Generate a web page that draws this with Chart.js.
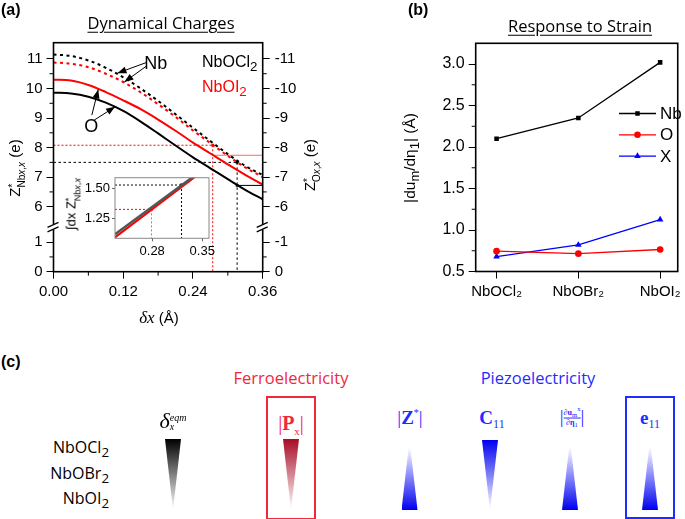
<!DOCTYPE html>
<html>
<head>
<meta charset="utf-8">
<script src="https://cdn.jsdelivr.net/npm/chart.js@4.4.1/dist/chart.umd.min.js"></script>
<style>
body{margin:0;width:685px;height:519px;position:relative;overflow:hidden;background:#fff;font-family:'Liberation Sans',Arial,sans-serif;color:#000;}
canvas{position:absolute;}
.t{position:absolute;white-space:nowrap;transform:translate(-50%,-50%);line-height:1;}
.l{position:absolute;white-space:nowrap;transform:translate(0,-50%);line-height:1;}
.r{position:absolute;white-space:nowrap;transform:translate(-100%,-50%);line-height:1;}
.rot{transform:translate(-50%,-50%) rotate(-90deg);}
.m{font-family:'Open Sans',sans-serif;}
.ser{font-family:'Liberation Serif',serif;}
sub,sup{line-height:0;}
.ss{display:inline-block;vertical-align:-0.5em;line-height:0.95;font-size:10px;text-align:left;}
.tri{position:absolute;}
.box{position:absolute;border:2px solid;box-sizing:border-box;}
.fr{display:inline-block;vertical-align:middle;font-size:8px;text-align:center;line-height:1.1;}
.fr span{display:block;}
</style>
</head>
<body>
<canvas id="cA" width="340" height="330" style="left:0;top:0"></canvas>
<canvas id="cIn" width="165" height="110" style="left:60px;top:160px"></canvas>
<canvas id="cB" width="345" height="330" style="left:340px;top:0"></canvas>

<!-- panel (a) text -->
<div class="l" style="left:1px;top:10px;font-weight:bold;font-size:16px">(a)</div>
<div class="t m" style="left:161px;top:23px;font-size:16.5px;text-decoration:underline;text-underline-offset:3px">Dynamical Charges</div>
<div class="l" style="left:202px;top:62px;font-size:16px">NbOCl<sub>2</sub></div>
<div class="l" style="left:202px;top:87px;font-size:16px;color:#f00">NbOI<sub>2</sub></div>
<div class="t rot" style="left:17px;top:168px;font-size:15px">Z<span class="ss">*<br>Nb<i>x</i>,<i>x</i></span> (e)</div>
<div class="t rot" style="left:312px;top:165px;font-size:15px">Z<span class="ss">*<br>O<i>x</i>,<i>x</i></span> (e)</div>
<div class="t rot" style="left:73px;top:204px;font-size:13px">&int;dx Z<span class="ss" style="font-size:9px">*<br>Nb<i>x</i>,<i>x</i></span></div>
<div class="t" style="left:159px;top:317px;font-size:15px"><i class="ser" style="font-size:17px">&delta;x</i> (&Aring;)</div>

<!-- panel (b) text -->
<div class="l" style="left:408px;top:10px;font-weight:bold;font-size:16px">(b)</div>
<div class="t m" style="left:580px;top:26px;font-size:16.5px;text-decoration:underline;text-underline-offset:3px">Response to Strain</div>
<div class="t rot" style="left:410px;top:158px;font-size:15.5px">|du<sub>m</sub>/d&eta;<sub>1</sub>| (&Aring;)</div>

<!-- panel (c) -->
<div class="l" style="left:1px;top:362px;font-weight:bold;font-size:16px">(c)</div>
<div class="t m" style="left:291px;top:378px;font-size:16.5px;color:#f0283c">Ferroelectricity</div>
<div class="t m" style="left:538px;top:378px;font-size:16.5px;color:#1f2cff">Piezoelectricity</div>
<div class="r m" style="left:109px;top:447px;font-size:16px">NbOCl<sub>2</sub></div>
<div class="r m" style="left:109px;top:473px;font-size:16px">NbOBr<sub>2</sub></div>
<div class="r m" style="left:109px;top:498px;font-size:16px">NbOI<sub>2</sub></div>

<div class="t ser" style="left:173px;top:421px;font-size:22px"><i>&delta;</i><span class="ss" style="font-size:10px;vertical-align:-0.2em"><i>eqm</i><br><i>x</i></span></div>
<div class="t ser" style="left:291px;top:423px;font-size:20px;color:#f0283c">|<b>P</b><sub style="font-size:11px">x</sub>|</div>
<div class="t ser" style="left:410px;top:417px;font-size:19px;color:#1f2cff">|<b>Z</b><sup style="font-size:10px">*</sup>|</div>
<div class="t ser" style="left:492px;top:417px;font-size:19px;color:#1f2cff"><b>C</b><sub style="font-size:12px">11</sub></div>
<div class="t ser" style="left:572px;top:417px;font-size:19px;color:#1f2cff">|<span class="fr"><span style="border-bottom:1px solid #1f2cff"><b>&part;u</b><sub>m</sub><sup>x</sup></span><span><b>&part;&eta;</b><sub>1</sub></span></span>|</div>
<div class="t ser" style="left:650px;top:417px;font-size:19px;color:#1f2cff"><b>e</b><sub style="font-size:12px">11</sub></div>

<div class="tri" style="left:165px;top:439px;width:16px;height:71px;clip-path:polygon(0 0,100% 0,50% 100%);background:linear-gradient(#000,#fff)"></div>
<div class="tri" style="left:283px;top:439px;width:16px;height:71px;clip-path:polygon(0 0,100% 0,50% 100%);background:linear-gradient(#a80c25,#fff)"></div>
<div class="tri" style="left:401.5px;top:440px;width:16px;height:70px;clip-path:polygon(50% 0,100% 100%,0 100%);background:linear-gradient(#fff 10%,#0000f0)"></div>
<div class="tri" style="left:482px;top:440px;width:16px;height:70px;clip-path:polygon(0 0,100% 0,50% 100%);background:linear-gradient(#0000f0,#fff)"></div>
<div class="tri" style="left:562px;top:440px;width:16px;height:70px;clip-path:polygon(50% 0,100% 100%,0 100%);background:linear-gradient(#fff 10%,#0000f0)"></div>
<div class="tri" style="left:642px;top:440px;width:16px;height:70px;clip-path:polygon(50% 0,100% 100%,0 100%);background:linear-gradient(#fff 10%,#0000f0)"></div>
<div class="box" style="left:266px;top:396px;width:50px;height:124px;border-color:#f0283c"></div>
<div class="box" style="left:625px;top:396px;width:50px;height:123px;border-color:#1f2cff"></div>

<script>
// panel (a): Born charges along the polar displacement
const dx    = [0, 0.03, 0.06, 0.09, 0.12, 0.15, 0.18, 0.21, 0.24, 0.27, 0.30, 0.33, 0.36];
const zNbCl = [11.15, 11.10, 10.95, 10.70, 10.38, 10.00, 9.58, 9.13, 8.67, 8.22, 7.78, 7.38, 7.07];
const zNbI  = [10.88, 10.84, 10.72, 10.50, 10.22, 9.87, 9.47, 9.04, 8.58, 8.15, 7.72, 7.33, 7.00];
const zOCl  = [9.86, 9.83, 9.72, 9.52, 9.24, 8.88, 8.48, 8.07, 7.67, 7.30, 6.93, 6.57, 6.25];
const zOI   = [10.30, 10.27, 10.12, 9.88, 9.60, 9.30, 8.95, 8.57, 8.17, 7.80, 7.43, 7.08, 6.75];
// equilibrium points: [NbOCl2, NbOI2]
const eqX  = [0.316, 0.274];
const eqNb = [7.50, 8.08];
const eqO  = [6.72, 7.74];
const aTicksX = [0, 0.12, 0.24, 0.36];
const aTicksY = [0, 1, 6, 7, 8, 9, 10, 11];

// inset: integrated charge
const inX   = [0.228, 0.36];
const inCl  = [1.12, 1.70];
const inI   = [1.095, 1.69];
const inEqX = [0.321, 0.279];
const inEqY = [1.531, 1.328];

// panel (b)
const compounds = ['NbOCl₂', 'NbOBr₂', 'NbOI₂'];
const duNb = [2.10, 2.35, 3.02];
const duO  = [0.745, 0.715, 0.765];
const duX  = [0.68, 0.82, 1.125];

Chart.defaults.font.family = "'Liberation Sans', Arial, sans-serif";
Chart.defaults.color = '#000';

// broken y axis: everything above 3 is pulled down by CUT
const CUT = 3.8;
const brk = v => v > 3 ? v - CUT : v;

function seg(pts, color, width, dash) {
  return { data: pts, showLine: true, borderColor: color, borderWidth: width,
           borderDash: dash || [], pointRadius: 0, fill: false };
}
function curve(ys, color, dash) {
  const ds = seg(dx.map((x, i) => ({ x: x, y: brk(ys[i]) })), color, 2, dash);
  ds.cubicInterpolationMode = 'monotone';
  return ds;
}

function frame(color, width) {
  return {
    id: 'frame',
    afterDatasetsDraw(chart) {
      const a = chart.chartArea, ctx = chart.ctx;
      ctx.save();
      ctx.strokeStyle = color;
      ctx.lineWidth = width;
      ctx.strokeRect(a.left, a.top, a.right - a.left, a.bottom - a.top);
      ctx.restore();
    }
  };
}

function minor(spec, len) {
  return {
    id: 'minor',
    afterDraw(chart) {
      const ctx = chart.ctx;
      ctx.save();
      ctx.strokeStyle = '#000';
      ctx.lineWidth = 1;
      for (const id in spec) {
        const s = chart.scales[id];
        spec[id].forEach(v => {
          const p = s.getPixelForValue(v);
          ctx.beginPath();
          if (s.isHorizontal()) { ctx.moveTo(p, s.top); ctx.lineTo(p, s.top + len); }
          else if (s.position === 'left') { ctx.moveTo(s.right, p); ctx.lineTo(s.right - len, p); }
          else { ctx.moveTo(s.left, p); ctx.lineTo(s.left + len, p); }
          ctx.stroke();
        });
      }
      ctx.restore();
    }
  };
}

function axisFixed(o) {
  // shared look for the framed axes
  return Object.assign({
    type: 'linear',
    border: { display: false },
    grid: { drawOnChartArea: false, tickLength: 7, color: '#000' }
  }, o);
}

// ---------- panel (a)
const notes = [
  { text: 'Nb', at: [0.176, 10.82], arrows: [[0.160, 10.88, 0.110, 10.52], [0.160, 10.76, 0.122, 10.22]] },
  { text: 'O',  at: [0.065, 8.70],  arrows: [[0.066, 9.10, 0.077, 9.97], [0.070, 8.93, 0.106, 9.38]] }
];
const annotA = {
  id: 'annotA',
  afterDraw(chart) {
    const ctx = chart.ctx, sx = chart.scales.x, sy = chart.scales.y;
    const px = v => sx.getPixelForValue(v), py = v => sy.getPixelForValue(brk(v));
    ctx.save();
    // axis breaks
    const yb = sy.getPixelForValue(1.52);
    [chart.chartArea.left, chart.chartArea.right].forEach(x0 => {
      ctx.fillStyle = '#fff';
      ctx.fillRect(x0 - 2, yb - 2.5, 4, 5);
      ctx.strokeStyle = '#000';
      ctx.lineWidth = 1.3;
      ctx.beginPath();
      ctx.moveTo(x0 - 6, yb + 0.5); ctx.lineTo(x0 + 5, yb - 4.5);
      ctx.moveTo(x0 - 6, yb + 5);   ctx.lineTo(x0 + 5, yb);
      ctx.stroke();
    });
    // annotation arrows
    ctx.fillStyle = '#000';
    ctx.strokeStyle = '#000';
    ctx.lineWidth = 1;
    ctx.font = "18px 'Liberation Sans', Arial, sans-serif";
    ctx.textAlign = 'center';
    ctx.textBaseline = 'middle';
    notes.forEach(n => {
      ctx.fillText(n.text, px(n.at[0]), py(n.at[1]));
      n.arrows.forEach(a => {
        const x1 = px(a[0]), y1 = py(a[1]), x2 = px(a[2]), y2 = py(a[3]);
        const ang = Math.atan2(y2 - y1, x2 - x1);
        ctx.beginPath(); ctx.moveTo(x1, y1); ctx.lineTo(x2, y2); ctx.stroke();
        ctx.beginPath();
        ctx.moveTo(x2, y2);
        ctx.lineTo(x2 - 9 * Math.cos(ang) + 3.5 * Math.sin(ang), y2 - 9 * Math.sin(ang) - 3.5 * Math.cos(ang));
        ctx.lineTo(x2 - 9 * Math.cos(ang) - 3.5 * Math.sin(ang), y2 - 9 * Math.sin(ang) + 3.5 * Math.cos(ang));
        ctx.closePath(); ctx.fill();
      });
    });
    ctx.restore();
  }
};

const refA = [];
const colA = ['#000', '#f00'];
eqX.forEach((x, i) => {
  const dash = i === 0 ? [2.5, 2.5] : [2, 2];
  refA.push(seg([{ x: 0, y: brk(eqNb[i]) }, { x: x, y: brk(eqNb[i]) }], colA[i], 1, dash));
  refA.push(seg([{ x: x, y: brk(eqNb[i]) }, { x: x, y: 0 }], colA[i], 1, dash));
  refA.push(seg([{ x: x, y: brk(eqO[i]) }, { x: 0.36, y: brk(eqO[i]) }], i === 0 ? '#000' : '#ff6a6a', 1));
});

const yLeftLabels = (v, i) => String(aTicksY[i]);
const yRightLabels = (v, i) => aTicksY[i] === 0 ? '0' : '-' + aTicksY[i];
const yMinorA = [0.5, 6.5, 7.5, 8.5, 9.5, 10.5].map(brk);

new Chart(document.getElementById('cA'), {
  type: 'scatter',
  data: {
    datasets: [
      curve(zNbCl, '#000', [3, 3.5]),
      curve(zNbI, '#f00', [3, 3.5]),
      curve(zOCl, '#000'),
      curve(zOI, '#f00'),
      ...refA,
      { data: [{ x: eqX[0], y: brk(eqNb[0]) }, { x: eqX[0], y: brk(eqO[0]) }, { x: eqX[1], y: brk(eqNb[1]) }],
        pointStyle: 'rect', pointRadius: 2, backgroundColor: ['#000', '#000', '#f00'], borderWidth: 0 }
    ]
  },
  options: {
    responsive: false, animation: false, devicePixelRatio: 1,
    layout: { padding: { top: 42.7, left: 0, right: 0, bottom: 0 } },
    plugins: { legend: { display: false }, tooltip: { enabled: false } },
    scales: {
      x: axisFixed({
        min: 0, max: 0.36,
        afterBuildTicks: s => { s.ticks = aTicksX.map(v => ({ value: v })); },
        afterFit: s => { s.height = 330 - 271.7; },
        ticks: { callback: v => v.toFixed(2), font: { size: 15 }, padding: 4, maxRotation: 0, autoSkip: false }
      }),
      y: axisFixed({
        min: 0, max: 7.75,
        afterBuildTicks: s => { s.ticks = aTicksY.map(v => ({ value: brk(v) })); },
        afterFit: s => { s.width = 53.5; },
        ticks: { callback: yLeftLabels, font: { size: 15 }, padding: 4, autoSkip: false }
      }),
      y2: axisFixed({
        position: 'right', min: 0, max: 7.75,
        afterBuildTicks: s => { s.ticks = aTicksY.map(v => ({ value: brk(v) })); },
        afterFit: s => { s.width = 340 - 262.7; },
        ticks: { callback: yRightLabels, font: { size: 15 }, padding: 5, autoSkip: false }
      })
    }
  },
  plugins: [frame('#000', 1.6), minor({ x: [0.06, 0.18, 0.30], y: yMinorA, y2: yMinorA }, 4), annotA]
});

// ---------- inset
const refIn = [];
const colIn = ['#000', '#f00'];
inEqX.forEach((x, i) => {
  refIn.push(seg([{ x: 0.2, y: inEqY[i] }, { x: x, y: inEqY[i] }], colIn[i], 1, [2, 2]));
  refIn.push(seg([{ x: x, y: inEqY[i] }, { x: x, y: 1.0 }], i === 0 ? '#000' : '#ff5a5a', 1, [2, 2]));
});

new Chart(document.getElementById('cIn'), {
  type: 'scatter',
  data: {
    datasets: [
      seg(inX.map((x, i) => ({ x: x, y: inCl[i] })), '#555', 2.5),
      seg(inX.map((x, i) => ({ x: x, y: inI[i] })), '#f00', 2),
      ...refIn,
      { data: inEqX.map((x, i) => ({ x: x, y: inEqY[i] })), pointStyle: 'rect', pointRadius: 2,
        backgroundColor: ['#000', '#f00'], borderWidth: 0 }
    ]
  },
  options: {
    responsive: false, animation: false, devicePixelRatio: 1,
    layout: { padding: { top: 17.7, left: 0, right: 16, bottom: 0 } },
    plugins: { legend: { display: false }, tooltip: { enabled: false } },
    scales: {
      x: axisFixed({
        min: 0.228, max: 0.3594,
        afterBuildTicks: s => { s.ticks = [0.28, 0.35].map(v => ({ value: v })); },
        afterFit: s => { s.height = 110 - 78.3; },
        grid: { drawOnChartArea: false, tickLength: 3, color: '#666' },
        ticks: { callback: v => v.toFixed(2), font: { size: 13 }, padding: 2, maxRotation: 0 }
      }),
      y: axisFixed({
        min: 1.087, max: 1.592,
        afterBuildTicks: s => { s.ticks = [1.25, 1.5].map(v => ({ value: v })); },
        afterFit: s => { s.width = 55; },
        grid: { drawOnChartArea: false, tickLength: 3, color: '#666' },
        ticks: { callback: v => v.toFixed(2), font: { size: 13 }, padding: 2 }
      })
    }
  },
  plugins: [frame('#888', 1)]
});

// ---------- panel (b)
const legendB = {
  id: 'legendB',
  afterDraw(chart) {
    const ctx = chart.ctx;
    ctx.save();
    ctx.font = "17px 'Liberation Sans', Arial, sans-serif";
    ctx.textBaseline = 'middle';
    chart.data.datasets.forEach((ds, i) => {
      const y = 113.5 + i * 21.3;
      ctx.strokeStyle = ds.borderColor;
      ctx.fillStyle = ds.borderColor;
      ctx.lineWidth = 1.3;
      ctx.beginPath(); ctx.moveTo(279, y); ctx.lineTo(316, y); ctx.stroke();
      Chart.helpers.drawPoint(ctx, { pointStyle: ds.pointStyle, radius: ds.pointRadius, rotation: 0, borderWidth: 0 }, 297.5, y);
      ctx.fillStyle = '#000';
      ctx.fillText(ds.label, 320, y + 1);
    });
    ctx.restore();
  }
};

function seriesB(label, ys, color, style, r) {
  return { label: label, data: ys.map((y, i) => ({ x: i, y: y })), showLine: true,
           borderColor: color, backgroundColor: color, borderWidth: 1.3,
           pointStyle: style, pointRadius: r, pointBorderWidth: 0 };
}

new Chart(document.getElementById('cB'), {
  type: 'scatter',
  data: {
    datasets: [
      seriesB('Nb', duNb, '#000', 'rect', 3.2),
      seriesB('O', duO, '#f00', 'circle', 3.3),
      seriesB('X', duX, '#00f', 'triangle', 3.8)
    ]
  },
  options: {
    responsive: false, animation: false, devicePixelRatio: 1,
    layout: { padding: { top: 43.3, left: 0, right: 5, bottom: 0 } },
    plugins: { legend: { display: false }, tooltip: { enabled: false } },
    scales: {
      x: axisFixed({
        min: -0.255, max: 2.215,
        afterBuildTicks: s => { s.ticks = compounds.map((c, i) => ({ value: i })); },
        afterFit: s => { s.height = 330 - 271.5; },
        ticks: { callback: (v, i) => compounds[i], font: { size: 15 }, padding: 4, maxRotation: 0, autoSkip: false }
      }),
      y: axisFixed({
        min: 0.5, max: 3.25,
        afterBuildTicks: s => { s.ticks = [0.5, 1, 1.5, 2, 2.5, 3].map(v => ({ value: v })); },
        afterFit: s => { s.width = 135.7; },
        ticks: { callback: v => v.toFixed(1), font: { size: 16 }, padding: 4, autoSkip: false }
      })
    }
  },
  plugins: [frame('#000', 1.6), minor({ y: [0.75, 1.25, 1.75, 2.25, 2.75] }, 4), legendB]
});
</script>
</body>
</html>
